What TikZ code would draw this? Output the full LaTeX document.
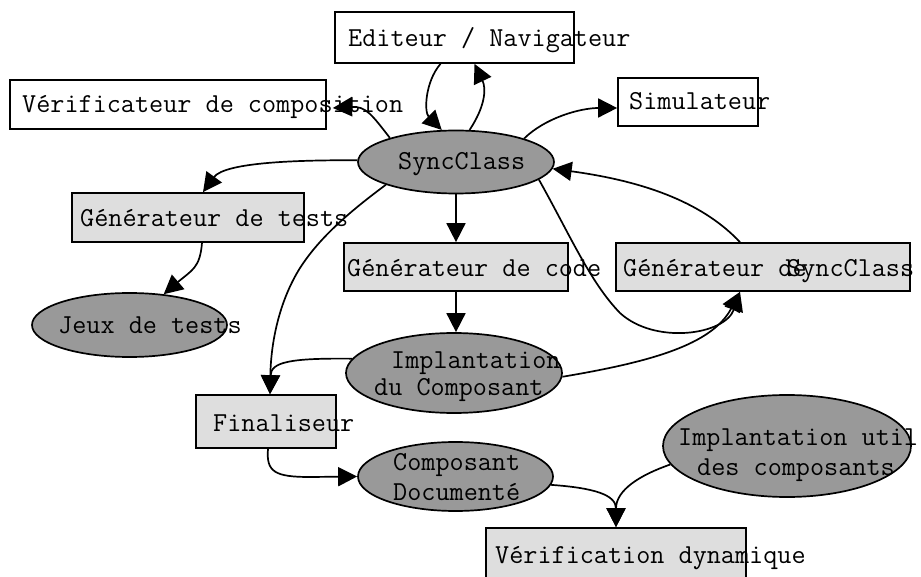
\documentclass[tikz,border=0pt]{standalone}
\usetikzlibrary{arrows.meta,shapes.geometric}
\definecolor{ellgray}{RGB}{153,153,153}
\definecolor{boxgray}{RGB}{222,222,222}
\begin{document}
\begin{tikzpicture}[x=1pt,y=-1pt,
  box/.style={draw=black,line width=1.7pt,rectangle,inner sep=0pt,fill=white},
  gbox/.style={box,fill=boxgray},
  ell/.style={draw=black,line width=1.7pt,ellipse,inner sep=0pt,fill=ellgray},
  lbl/.style={anchor=base west,inner sep=0pt,font=\ttfamily\fontsize{27.4}{30}\selectfont},
  arr/.style={line width=1.7pt,-{Triangle[length=19pt,width=19pt]}}]
\useasboundingbox (0,0) rectangle (921,577);
% shapes
\node[box,minimum width=239pt,minimum height=51pt] (edit) at (454.5,37.5) {};
\node[box,minimum width=316pt,minimum height=49pt] (verif) at (168,104.5) {};
\node[box,minimum width=140pt,minimum height=48pt] (simu) at (688,102) {};
\node[ell,minimum width=196pt,minimum height=63pt] (sync) at (456,162) {};
\node[gbox,minimum width=232pt,minimum height=49pt] (gentests) at (188,217.5) {};
\node[ell,minimum width=195pt,minimum height=64pt] (jeux) at (129.5,325) {};
\node[gbox,minimum width=224pt,minimum height=48pt] (gencode) at (456,267) {};
\node[gbox,minimum width=294pt,minimum height=48pt] (gensync) at (763,267) {};
\node[ell,minimum width=216pt,minimum height=80pt] (impl) at (454,373) {};
\node[gbox,minimum width=140pt,minimum height=53pt] (final) at (266,421.5) {};
\node[ell,minimum width=195pt,minimum height=69pt] (compdoc) at (455.5,476.5) {};
\node[ell,minimum width=248pt,minimum height=102pt] (implutil) at (787,446) {};
\node[gbox,minimum width=260pt,minimum height=72pt] (verdyn) at (616,564) {};
% texts
\node[lbl] (t-edit) at (348,47) {Editeur / Navigateur};
\node[lbl] (t-verif) at (22,113) {Vérificateur de composition};
\node[lbl] (t-simu) at (629,110) {Simulateur};
\node[lbl] (t-sync) at (398,170) {SyncClass};
\node[lbl] (t-gentests) at (80,227) {Générateur de tests};
\node[lbl] (t-jeux) at (58,334) {Jeux de tests};
\node[lbl] (t-gencode) at (347,277) {Générateur de code};
\node[lbl] (t-gensync1) at (623,277) {Générateur de};
\node[lbl] (t-gensync2) at (787,277) {SyncClass};
\node[lbl] (t-impl1) at (391,368) {Implantation};
\node[lbl] (t-impl2) at (374,395) {du Composant};
\node[lbl] (t-final) at (213,431) {Finaliseur};
\node[lbl] (t-compdoc1) at (393,470) {Composant};
\node[lbl] (t-compdoc2) at (393,500) {Documenté};
\node[lbl] (t-implutil1) at (678,445) {Implantation util};
\node[lbl] (t-implutil2) at (697,475) {des composants};
\node[lbl] (t-verdyn) at (495,563) {Vérification dynamique};
% connectors
\draw[arr] ([xshift=-14pt]edit.south) .. controls (425,82) and (424,112) .. (sync.114);
\draw[arr] (sync.67) .. controls (486,105) and (486,88) .. ([xshift=20pt]edit.south);
\draw[arr] (sync.160) .. controls (372,115) and (366,106) .. ([xshift=6pt,yshift=-3.5pt]verif.east);
\draw[arr] (sync.179) .. controls (300,160) and (225,162) .. ([xshift=15pt]gentests.north);
\draw[arr] (sync.19) .. controls (545,118) and (580,108) .. ([yshift=-6pt]simu.west);
\draw[arr] ([xshift=-23pt]gensync.north) .. controls (705,205) and (650,182) .. (sync.-4);
\draw[arr] (sync.south) -- (gencode.north);
\draw[arr] (gencode.south) -- (gencode.south |- impl.north);
\draw[arr] (sync.198) .. controls (345,215) and (318,240) .. (300,268) .. controls (280,300) and (271,340) .. ([xshift=4pt]final.north);
\draw[arr] (impl.172) .. controls (290,358) and (271,362) .. ([xshift=4pt]final.north);
\draw[arr] (sync.-12) .. controls (570,235) and (590,282) .. (620,313) .. controls (655,345) and (725,335) .. ([xshift=-23pt]gensync.south);
\draw[arr] (impl.-2) .. controls (650,362) and (712,345) .. ([xshift=-23pt]gensync.south);
\draw[arr] ([xshift=14pt]gentests.south) .. controls (200,268) and (192,270) .. (jeux.42);
\draw[arr] ([xshift=2pt]final.south) .. controls (266,472) and (275,477) .. (310,477) -- (compdoc.west);
\draw[arr] (compdoc.-5) .. controls (595,488) and (616,495) .. (verdyn.north);
\draw[arr] (implutil.189) .. controls (640,475) and (616,490) .. (verdyn.north);
\end{tikzpicture}
\end{document}
